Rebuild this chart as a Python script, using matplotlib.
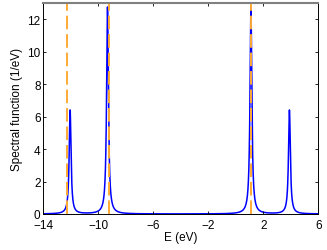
import numpy as np
import matplotlib
matplotlib.use("Agg")
import matplotlib.pyplot as plt

# Peak data
peak_energies = [-12.05, -9.33, 1.10, 3.90]      # eV
peak_heights = [6.4, 12.75, 12.75, 6.4]          # 1/eV
peak_halfwidth = 0.08                            # eV (Lorentzian broadening)
dashed_energies = [-12.25, -9.22, 1.10]          # eV
xticks = [-14, -10, -6, -2, 2, 6]
yticks = [0, 2, 4, 6, 8, 10, 12]

plt.rcParams['font.family'] = ['Liberation Sans', 'DejaVu Sans']

fig = plt.figure(figsize=(3.27, 2.51), dpi=100)
ax = fig.add_axes([43.3/327, 1 - 215/251, 275/327, 211/251])

E = np.linspace(-14, 6, 8001)
A = np.zeros_like(E)
for e0, h in zip(peak_energies, peak_heights):
    A += h * peak_halfwidth**2 / ((E - e0)**2 + peak_halfwidth**2)

ax.plot(E, A, color='#0000FF', lw=1.1, zorder=1)
for e in dashed_energies:
    ax.axvline(e, color='#FFAA33', lw=1.4, dashes=(7, 2.5), zorder=2)

ax.set_xlim(-14, 6)
ax.set_ylim(0, 13)
ax.set_xticks(xticks)
ax.set_xticklabels([f"\u2212{abs(t)}" if t < 0 else str(t) for t in xticks])
ax.set_yticks(yticks)
ax.tick_params(direction='in', top=True, right=True, length=2.5, width=0.6,
               labelsize=8.5)
ax.tick_params(axis='x', pad=3.5)
ax.tick_params(axis='y', pad=2)
for s in ['left', 'right', 'bottom']:
    ax.spines[s].set_linewidth(0.7)
ax.spines['top'].set_color('0.5')
ax.spines['top'].set_linewidth(1.5)
ax.set_xlabel('E (eV)', fontsize=8.5, labelpad=0)
ax.set_ylabel('Spectral function (1/eV)', fontsize=8.5, labelpad=3)

fig.savefig('out.png', dpi=100)
